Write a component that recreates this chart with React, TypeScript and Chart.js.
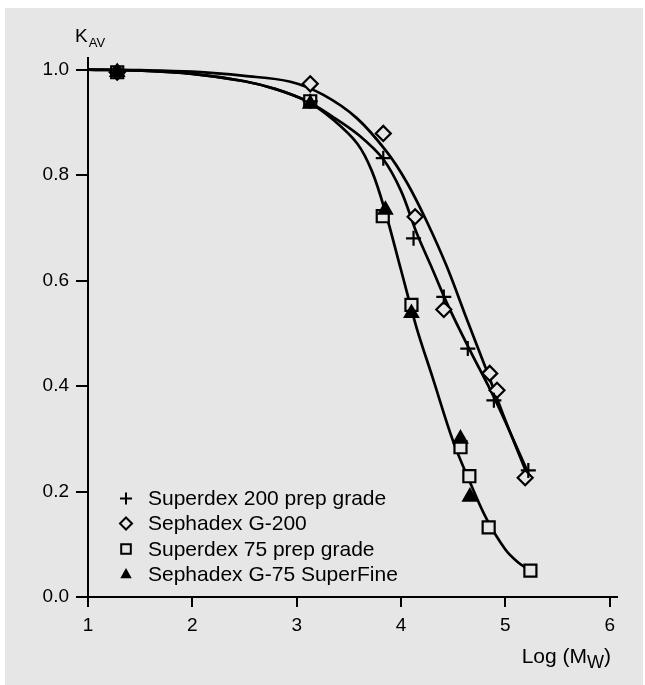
import React, { useEffect, useRef } from "react";
import { Chart, registerables } from "chart.js";

Chart.register(...registerables);

const BG = "#e6e6e6";
const FONT = '"Liberation Sans", Arial, Helvetica, sans-serif';

// Axis ticks
const xTicks = [1, 2, 3, 4, 5, 6];
const yTicks = [0, 0.2, 0.4, 0.6, 0.8, 1.0];

// Series labels
const seriesLabels = [
  "Superdex 200 prep grade",
  "Sephadex G-200",
  "Superdex 75 prep grade",
  "Sephadex G-75 SuperFine",
];

// Measured points
const superdex200X = [1.28, 3.13, 3.83, 4.12, 4.41, 4.64, 4.89, 5.22];
const superdex200Y = [0.995, 0.94, 0.832, 0.68, 0.569, 0.471, 0.373, 0.24];

const sephadexG200X = [1.28, 3.13, 3.83, 4.135, 4.41, 4.85, 4.92, 5.19];
const sephadexG200Y = [0.995, 0.973, 0.879, 0.721, 0.545, 0.424, 0.392, 0.226];

const superdex75X = [1.28, 3.13, 3.825, 4.1, 4.57, 4.655, 4.84, 5.24];
const superdex75Y = [0.995, 0.94, 0.722, 0.554, 0.284, 0.229, 0.132, 0.05];

const sephadexG75X = [1.28, 3.13, 3.85, 4.1, 4.57, 4.66];
const sephadexG75Y = [0.995, 0.935, 0.734, 0.538, 0.3, 0.19];

// Fitted curves
const curve200X = [1.0, 1.5, 2.0, 2.5, 2.8, 3.1, 3.35, 3.6, 3.83, 4.0, 4.15, 4.3, 4.45, 4.66, 4.9, 5.22];
const curve200Y = [1.0, 0.998, 0.992, 0.978, 0.963, 0.94, 0.91, 0.875, 0.83, 0.77, 0.69, 0.622, 0.553, 0.468, 0.375, 0.235];

const curveG200X = [1.0, 1.5, 2.0, 2.5, 2.94, 3.256, 3.576, 3.864, 4.056, 4.247, 4.44, 4.63, 4.82, 5.0, 5.21];
const curveG200Y = [1.0, 0.999, 0.996, 0.988, 0.977, 0.952, 0.908, 0.844, 0.786, 0.712, 0.626, 0.527, 0.43, 0.335, 0.232];

const curve75X = [1.0, 1.5, 2.0, 2.5, 2.8, 3.1, 3.35, 3.58, 3.72, 3.85, 4.0, 4.15, 4.3, 4.5, 4.66, 4.82, 5.0, 5.12, 5.24];
const curve75Y = [1.0, 0.998, 0.992, 0.978, 0.963, 0.94, 0.905, 0.86, 0.808, 0.73, 0.62, 0.51, 0.418, 0.295, 0.218, 0.148, 0.09, 0.066, 0.05];

const pts = (xs: number[], ys: number[]) => xs.map((x, i) => ({ x, y: ys[i] }));

const legendStyles = ["cross", "rectRot", "rect", "triangle"];

function drawMarker(ctx: CanvasRenderingContext2D, style: string, x: number, y: number, r: number) {
  ctx.save();
  ctx.strokeStyle = "#000";
  ctx.lineWidth = 2;
  ctx.beginPath();
  if (style === "cross") {
    ctx.moveTo(x - r, y);
    ctx.lineTo(x + r, y);
    ctx.moveTo(x, y - r);
    ctx.lineTo(x, y + r);
    ctx.stroke();
  } else if (style === "rectRot") {
    ctx.moveTo(x, y - r);
    ctx.lineTo(x + r, y);
    ctx.lineTo(x, y + r);
    ctx.lineTo(x - r, y);
    ctx.closePath();
    ctx.fillStyle = BG;
    ctx.fill();
    ctx.stroke();
  } else if (style === "rect") {
    const s = r * 0.8;
    ctx.rect(x - s, y - s, 2 * s, 2 * s);
    ctx.fillStyle = BG;
    ctx.fill();
    ctx.stroke();
  } else {
    ctx.moveTo(x, y - r);
    ctx.lineTo(x + r * 0.95, y + r * 0.7);
    ctx.lineTo(x - r * 0.95, y + r * 0.7);
    ctx.closePath();
    ctx.fillStyle = "#000";
    ctx.fill();
  }
  ctx.restore();
}

const overlayPlugin = {
  id: "overlay",
  afterDraw(chart: any) {
    const ctx: CanvasRenderingContext2D = chart.ctx;
    const area = chart.chartArea;
    ctx.save();
    ctx.fillStyle = "#000";
    ctx.textBaseline = "alphabetic";
    ctx.textAlign = "left";

    // Y axis title K_AV
    ctx.font = `19px ${FONT}`;
    ctx.fillText("K", area.left - 13, 34);
    const kw = ctx.measureText("K").width;
    ctx.font = `13px ${FONT}`;
    ctx.fillText("AV", area.left - 13 + kw + 1, 39);

    // X axis title Log (M_W)
    const right = area.right - 6;
    const base = 655;
    ctx.font = `21px ${FONT}`;
    const w1 = ctx.measureText("Log (M").width;
    const w3 = ctx.measureText(")").width;
    ctx.font = `18px ${FONT}`;
    const w2 = ctx.measureText("W").width;
    const start = right - (w1 + w2 + w3);
    ctx.font = `21px ${FONT}`;
    ctx.fillText("Log (M", start, base);
    ctx.fillText(")", start + w1 + w2, base);
    ctx.font = `18px ${FONT}`;
    ctx.fillText("W", start + w1, base + 5);

    // Legend
    const rowYs = [490.5, 515.5, 541, 566];
    ctx.font = `21px ${FONT}`;
    ctx.textBaseline = "middle";
    seriesLabels.forEach((label, i) => {
      drawMarker(ctx, legendStyles[i], area.left + 38, rowYs[i], 6);
      ctx.fillStyle = "#000";
      ctx.fillText(label, area.left + 60, rowYs[i] + 1);
    });
    ctx.restore();
  },
};

export default function App() {
  const ref = useRef<HTMLCanvasElement | null>(null);

  useEffect(() => {
    if (!ref.current) return;
    const curveStyle = {
      showLine: true,
      borderColor: "#000",
      borderWidth: 2.7,
      pointRadius: 0,
      tension: 0.35,
      order: 10,
    };
    const markerBase = {
      showLine: false,
      borderColor: "#000",
      pointBorderColor: "#000",
      pointBorderWidth: 2.2,
      order: 0,
    };
    const chart = new Chart(ref.current, {
      type: "scatter",
      data: {
        datasets: [
          { ...markerBase, label: seriesLabels[3], data: pts(sephadexG75X, sephadexG75Y), pointStyle: "triangle", pointRadius: 7.5, pointBackgroundColor: "#000", order: 0 },
          { ...markerBase, label: seriesLabels[0], data: pts(superdex200X, superdex200Y), pointStyle: "cross", pointRadius: 7.5, pointBackgroundColor: "#000", order: 1 },
          { ...markerBase, label: seriesLabels[1], data: pts(sephadexG200X, sephadexG200Y), pointStyle: "rectRot", pointRadius: 7.5, pointBackgroundColor: BG, order: 2 },
          { ...markerBase, label: seriesLabels[2], data: pts(superdex75X, superdex75Y), pointStyle: "rect", pointRadius: 8.5, pointBackgroundColor: BG, order: 3 },
          { ...curveStyle, label: "fit200", data: pts(curve200X, curve200Y) },
          { ...curveStyle, label: "fitG200", data: pts(curveG200X, curveG200Y) },
          { ...curveStyle, label: "fit75", data: pts(curve75X, curve75Y) },
        ],
      },
      options: {
        animation: false,
        responsive: false,
        maintainAspectRatio: false,
        layout: { padding: { left: 0, right: 26, top: 50, bottom: 0 } },
        plugins: {
          legend: { display: false },
          tooltip: { enabled: false },
        },
        scales: {
          x: {
            type: "linear",
            min: 1,
            max: 6.07,
            afterBuildTicks: (s: any) => {
              s.ticks = xTicks.map((v) => ({ value: v }));
            },
            afterFit: (s: any) => {
              s.height = 88;
            },
            border: { display: true, color: "#000", width: 2 },
            grid: { drawOnChartArea: false, drawTicks: true, tickLength: 10, color: "#000", lineWidth: 2 },
            ticks: {
              color: "#000",
              padding: 7,
              font: { family: FONT, size: 19 },
              callback: (v: any) => String(v),
            },
          },
          y: {
            type: "linear",
            min: 0,
            max: 1.022,
            afterBuildTicks: (s: any) => {
              s.ticks = yTicks.map((v) => ({ value: v }));
            },
            afterFit: (s: any) => {
              s.width = 83;
            },
            border: { display: true, color: "#000", width: 2 },
            grid: { drawOnChartArea: false, drawTicks: true, tickLength: 12, color: "#000", lineWidth: 2 },
            ticks: {
              color: "#000",
              padding: 7,
              font: { family: FONT, size: 19 },
              callback: (v: any) => Number(v).toFixed(1),
            },
          },
        },
      },
      plugins: [overlayPlugin],
    });
    return () => chart.destroy();
  }, []);

  return (
    <div
      style={{
        position: "fixed",
        left: 5,
        top: 8,
        width: 638,
        height: 677,
        background: BG,
      }}
    >
      <canvas ref={ref} width={638} height={677} style={{ display: "block", width: 638, height: 677 }} />
    </div>
  );
}
